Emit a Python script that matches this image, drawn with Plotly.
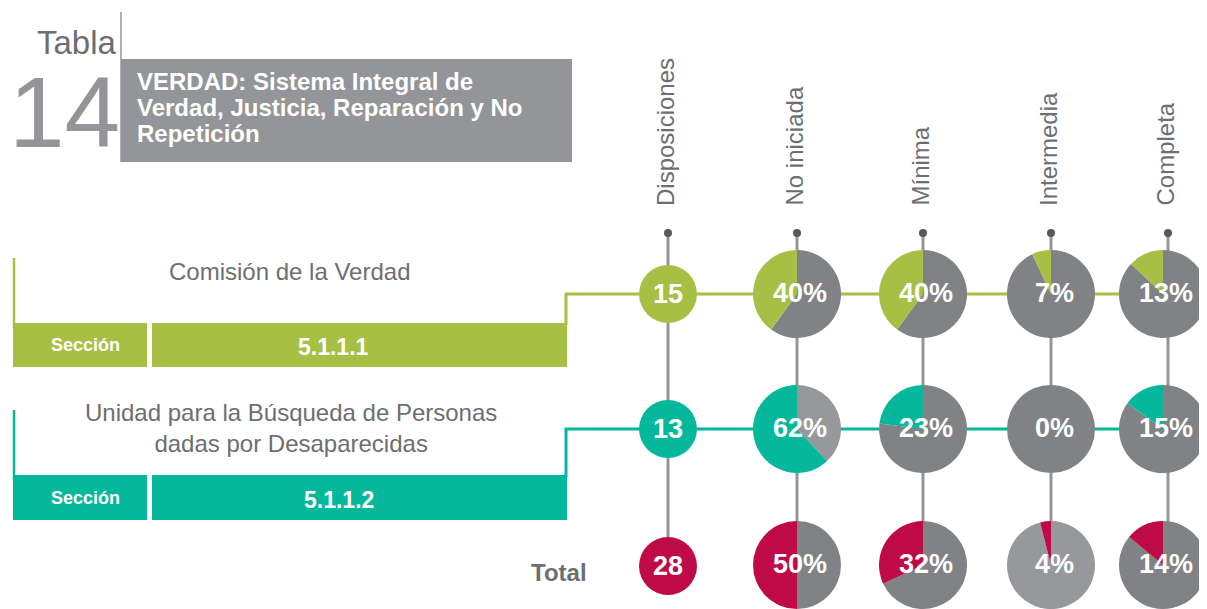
import plotly.graph_objects as go

# ---------------- data ----------------
columns = ["Disposiciones", "No iniciada", "Mínima", "Intermedia", "Completa"]
rows = ["Comisión de la Verdad", "Unidad para la Búsqueda de Personas<br>dadas por Desaparecidas", "Total"]
sections = ["5.1.1.1", "5.1.1.2"]
disposiciones = [15, 13, 28]
no_iniciada = [40, 62, 50]
minima = [40, 23, 32]
intermedia = [7, 0, 4]
completa = [13, 15, 14]
title_lines = ["VERDAD: Sistema Integral de", "Verdad, Justicia, Reparación y No", "Repetición"]

# ---------------- style / layout ----------------
SW, SH = 1207, 609          # screen size
OFF = 8                     # page body margin: screen pixel = figure pixel + OFF
W, H = SW - OFF, SH - OFF   # figure size (no overflow of the window)
FONT = "Liberation Sans, Arial, sans-serif"
GREEN = "#a8bf45"
TEAL = "#06b89b"
CRIMSON = "#be0a46"
row_colors = [GREEN, TEAL, CRIMSON]
DARK_GRAY = "#808285"
LIGHT_GRAY = "#97989b"
TEXT_GRAY = "#6d6e71"
LINE_GRAY = "#939598"
col_x = [668, 797, 923, 1051, 1168]
row_y = [294, 429, 566]
pie_gray = [[DARK_GRAY, DARK_GRAY, DARK_GRAY, DARK_GRAY],
            [LIGHT_GRAY, DARK_GRAY, DARK_GRAY, DARK_GRAY],
            [DARK_GRAY, DARK_GRAY, LIGHT_GRAY, DARK_GRAY]]
R_DISP = 29
R_PIE = 44

fig = go.Figure()

# vertical column lines
for cx in col_x:
    fig.add_trace(go.Scatter(x=[cx, cx], y=[233, 545], mode="lines",
                             line=dict(color=LINE_GRAY, width=3), hoverinfo="skip"))
# row connector lines
bar_top = [323, 475]
for i in range(2):
    fig.add_trace(go.Scatter(x=[14, 14], y=[[258, 410][i], bar_top[i] + 5], mode="lines",
                             line=dict(color=row_colors[i], width=2.5), hoverinfo="skip"))
    fig.add_trace(go.Scatter(x=[566, 566, SW], y=[bar_top[i] + 2, row_y[i], row_y[i]], mode="lines",
                             line=dict(color=row_colors[i], width=3), hoverinfo="skip"))
# top dots
fig.add_trace(go.Scatter(x=col_x, y=[233] * len(col_x), mode="markers",
                         marker=dict(color="#58595b", size=8), hoverinfo="skip"))


def dom(cx, cy, r):
    fx, fy = cx - OFF, cy - OFF
    fx = min(fx, W - r)
    fy = min(fy, H - r)
    return (dict(x=[(fx - r) / W, (fx + r) / W], y=[1 - (fy + r) / H, 1 - (fy - r) / H]),
            fx + OFF, fy + OFF)


annotations = []
pct_cols = [no_iniciada, minima, intermedia, completa]
for ri in range(3):
    d, cxx, cyy = dom(col_x[0], row_y[ri], R_DISP)
    fig.add_trace(go.Pie(values=[1], domain=d, marker=dict(colors=[row_colors[ri]], line=dict(width=0)),
                         textinfo="none", hoverinfo="skip", sort=False))
    annotations.append(dict(x=cxx, y=cyy, text="<b>%d</b>" % disposiciones[ri], showarrow=False,
                            font=dict(family=FONT, size=27, color="white")))
    for ci, series in enumerate(pct_cols):
        v = series[ri]
        d, cxx, cyy = dom(col_x[ci + 1], row_y[ri], R_PIE)
        fig.add_trace(go.Pie(values=[100 - v, v], domain=d, sort=False, direction="counterclockwise",
                             rotation=0, marker=dict(colors=[pie_gray[ri][ci], row_colors[ri]], line=dict(width=0)),
                             textinfo="none", hoverinfo="skip"))
        annotations.append(dict(x=cxx + 3, y=cyy - 1, text="<b>%d%%</b>" % v, showarrow=False,
                                font=dict(family=FONT, size=27, color="white")))

shapes = []
# title block
shapes.append(dict(type="rect", x0=121, x1=572, y0=59, y1=162, fillcolor="#939598", line=dict(width=0), layer="below"))
shapes.append(dict(type="line", x0=121, x1=121, y0=12, y1=162, line=dict(color="#939598", width=1.5), layer="below"))
# section bars
bar_y = [(323, 367), (475, 520)]
for i in range(2):
    y0, y1 = bar_y[i]
    shapes.append(dict(type="rect", x0=13, x1=147, y0=y0, y1=y1, fillcolor=row_colors[i], line=dict(width=0), layer="below"))
    shapes.append(dict(type="rect", x0=152, x1=567, y0=y0, y1=y1, fillcolor=row_colors[i], line=dict(width=0), layer="below"))
    annotations.append(dict(x=85, y=(y0 + y1) / 2, text="<b>Sección</b>", showarrow=False,
                            font=dict(family=FONT, size=18, color="white")))
    annotations.append(dict(x=[333, 339][i], y=(y0 + y1) / 2 + 2, text="<b>%s</b>" % sections[i], showarrow=False,
                            font=dict(family=FONT, size=23, color="white")))

annotations.append(dict(x=289, y=271, text=rows[0], showarrow=False,
                        font=dict(family=FONT, size=24, color=TEXT_GRAY)))
annotations.append(dict(x=291, y=428, text=rows[1], showarrow=False,
                        font=dict(family=FONT, size=24, color=TEXT_GRAY)))
annotations.append(dict(x=589, y=572, xanchor="right", text="<b>%s</b>" % rows[2], showarrow=False,
                        font=dict(family=FONT, size=24, color=TEXT_GRAY)))

# header
annotations.append(dict(x=119, y=42, xanchor="right", text="Tabla", showarrow=False,
                        font=dict(family=FONT, size=33, color=TEXT_GRAY)))
annotations.append(dict(x=122, y=112, xanchor="right", text="14", showarrow=False,
                        font=dict(family=FONT, size=100, color="#939598")))
for k, line in enumerate(title_lines):
    annotations.append(dict(x=135, y=81 + 26 * k, xanchor="left", align="left", text="<b>%s</b>" % line,
                            showarrow=False, font=dict(family=FONT, size=24, color="white")))

# column labels
for cx, name in zip(col_x, columns):
    annotations.append(dict(x=cx - 3, y=208, text=name, textangle=-90, xanchor="center", yanchor="bottom",
                            showarrow=False, font=dict(family=FONT, size=24, color=TEXT_GRAY)))

fig.update_layout(
    width=W, height=H, margin=dict(l=0, r=0, t=0, b=0),
    paper_bgcolor="white", plot_bgcolor="white", showlegend=False,
    xaxis=dict(range=[OFF, SW], visible=False, fixedrange=True),
    yaxis=dict(range=[SH, OFF], visible=False, fixedrange=True),
    shapes=shapes, annotations=annotations,
)
fig.write_html("out.html", config={"displayModeBar": False})
